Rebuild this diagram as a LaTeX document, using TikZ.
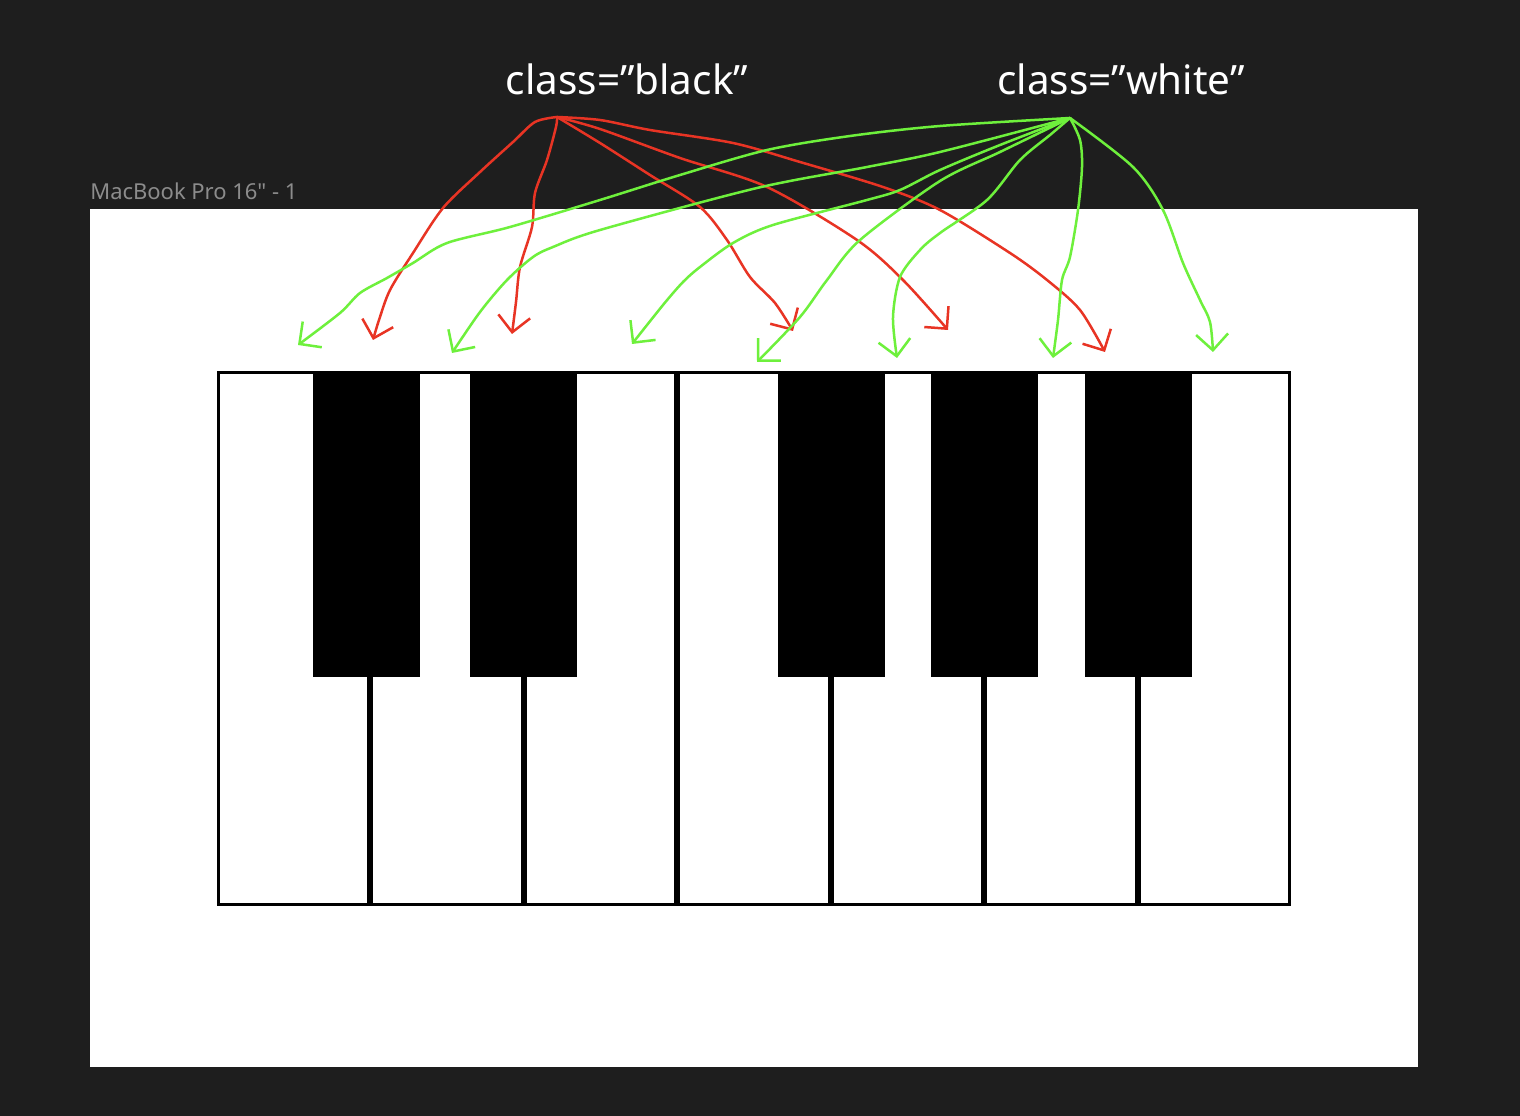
\documentclass[tikz,border=0pt]{standalone}
\usepackage{fontspec}
\setmainfont{Noto Sans}
\usepackage{tikz}
\usetikzlibrary{arrows.meta}

\definecolor{canvas}{RGB}{30,30,30}
\definecolor{inkred}{RGB}{232,52,36}
\definecolor{inkgreen}{RGB}{110,240,60}
\definecolor{framegrey}{RGB}{140,140,140}

\tikzstyle{classlabel} = [text=white,anchor=base,inner sep=0,font=\fontsize{23pt}{27pt}\selectfont]
\tikzstyle{framelabel} = [text=framegrey,anchor=base west,inner sep=0,font=\fontsize{12.5pt}{15pt}\selectfont\addfontfeatures{Ligatures=TeXOff}]
\tikzstyle{whitekey} = [draw=black,fill=white,line width=0.6mm,inner sep=0,minimum width=30.09mm,minimum height=106.4mm]
\tikzstyle{blackkey} = [fill=black,inner sep=0,minimum width=21.4mm,minimum height=61.2mm]
\tikzstyle{redline} = [inkred,line width=0.5mm,line cap=round,line join=round,-{Straight Barb[length=3.2mm,width=6.4mm]}]
\tikzstyle{greenline} = [inkgreen,line width=0.5mm,line cap=round,line join=round,-{Straight Barb[length=3.2mm,width=6.4mm]}]

\begin{document}
\begin{tikzpicture}[x=0.2mm,y=-0.2mm]

        \useasboundingbox (0,0) rectangle (1520,1116);

        % dark canvas and the white frame
        \fill[canvas] (0,0) rectangle (1520,1116);
        \fill[white] (90,209) rectangle (1418,1067);
        \node[framelabel] (frame) at (90,200) {MacBook Pro 16" - 1};

        % class labels
        \node[classlabel] (blacklbl) at (627,95) {class=”black”};
        \node[classlabel] (whitelbl) at (1121,95) {class=”white”};
        \coordinate (bsrc) at (557,117);
        \coordinate (wsrc) at (1070,118);

        % white keys
        \foreach \i in {1,...,7}
            \node[whitekey] (wk\i) at ({217+153.43*(\i-0.5)},638.5) {};

        % black keys
        \foreach \x [count=\n] in {366.5,523.5,831.5,984.5,1138.5}
            \node[blackkey] (bk\n) at (\x,524) {};

        % arrow ends above the keys
        \coordinate (b1) at (373,340);
        \coordinate (b2) at (512,334);
        \coordinate (b3) at (793,331);
        \coordinate (b4) at (948,330);
        \coordinate (b5) at (1105,352);
        \coordinate (w1) at (298,345);
        \coordinate (w2) at (452,353);
        \coordinate (w3) at (632,344);
        \coordinate (w4) at (757,362);
        \coordinate (w5) at (897,358);
        \coordinate (w6) at (1053,358);
        \coordinate (w7) at (1213,352);

        % class="black" -> black keys
        \draw[redline] plot[smooth] coordinates {(bsrc) (535,122) (513,142) (480,172) (443,208) (413,253) (390,290) (379,320) (b1)};
        \draw[redline] plot[smooth] coordinates {(bsrc) (556,127) (547,160) (535,193) (532,227) (520,267) (516,302) (b2)};
        \draw[redline] plot[smooth] coordinates {(bsrc) (600,143) (650,175) (700,207) (727,240) (750,277) (775,303) (b3)};
        \draw[redline] plot[smooth] coordinates {(bsrc) (600,129) (680,158) (767,187) (857,240) (903,280) (b4)};
        \draw[redline] plot[smooth] coordinates {(bsrc) (600,120) (650,130) (733,143) (800,162) (883,187) (940,210) (1010,253) (1047,280) (1080,310) (b5)};

        % class="white" -> white keys
        \draw[greenline] plot[smooth] coordinates {(wsrc) (940,126) (850,136) (767,150) (680,175) (600,200) (510,227) (447,243) (413,263) (387,278) (360,293) (340,313) (w1)};
        \draw[greenline] plot[smooth] coordinates {(wsrc) (940,152) (867,167) (757,188) (600,230) (553,247) (533,257) (507,280) (480,312) (w2)};
        \draw[greenline] plot[smooth] coordinates {(wsrc) (1000,145) (940,170) (900,190) (867,200) (773,225) (733,243) (700,267) (683,282) (663,305) (w3)};
        \draw[greenline] plot[smooth] coordinates {(wsrc) (1000,152) (940,181) (860,240) (827,280) (800,317) (w4)};
        \draw[greenline] plot[smooth] coordinates {(wsrc) (1050,135) (1020,160) (987,200) (940,233) (920,250) (900,277) (893,317) (w5)};
        \draw[greenline] plot[smooth] coordinates {(wsrc) (1080,140) (1082,167) (1078,210) (1070,257) (1062,280) (1058,320) (w6)};
        \draw[greenline] plot[smooth] coordinates {(wsrc) (1133,167) (1163,210) (1183,263) (1200,300) (1210,322) (w7)};

\end{tikzpicture}
\end{document}
